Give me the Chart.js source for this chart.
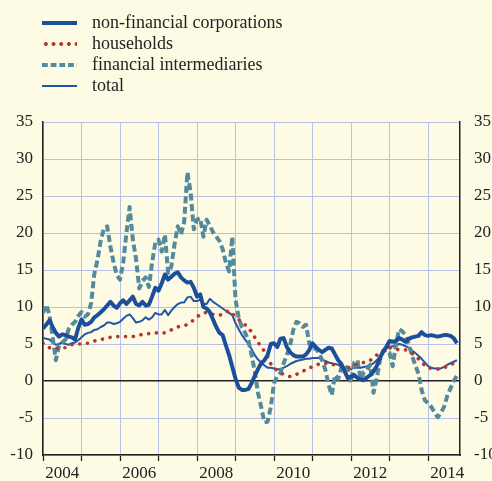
<!DOCTYPE html>
<html>
<head>
<meta charset="utf-8">
<script src="https://cdn.jsdelivr.net/npm/chart.js@4"></script>
<style>
html,body{
margin:0;
padding:0;
background:#FEFBE5;
}
#wrap{
position:relative;
width:492px;
height:481px;
}
#legend{
position:absolute;
left:42px;
top:12px;
font-family:"Liberation Serif","Times New Roman",serif;
font-size:18px;
color:#222;
}
.item{
height:21px;
display:flex;
align-items:center;
}
.sample{
width:35px;
height:4px;
margin-right:15px;
}
</style>
</head>
<body>

<div id="wrap">
<canvas id="chart" width="492" height="481"></canvas>
<div id="legend"></div>
</div>

<script>

// Data (monthly, Jan 2004 - Oct 2014, % y/y)

const startYear = 2004;

const yearLabels = ["2004","2006","2008","2010","2012","2014"];

const nonFinancial = [
7.1,7.6,8.2,7.3,6.5,6.0,6.3,6.2,6.0,5.9,5.6,7.2,
8.3,7.6,7.7,8.0,8.6,8.9,9.3,9.7,10.2,10.7,10.2,9.9,
10.5,10.9,10.4,10.9,11.4,10.4,10.2,10.7,10.2,10.3,11.4,12.6,
12.2,13.2,14.4,13.7,14.1,14.5,14.7,14.0,13.6,13.3,13.4,12.6,
11.4,11.7,10.0,9.8,9.3,8.3,7.3,6.5,6.2,4.8,3.5,1.9,
0.3,-0.9,-1.2,-1.2,-1.1,-0.3,0.7,1.6,2.4,2.8,3.5,5.0,
5.1,4.6,5.7,5.8,4.6,3.9,3.5,3.3,3.3,3.3,3.6,4.2,
5.1,4.6,4.2,3.9,4.2,4.5,4.4,3.6,2.8,2.3,1.3,0.4,
0.6,0.8,0.4,0.2,0.1,0.5,0.8,1.3,2.0,3.1,4.0,4.6,
5.4,5.3,5.4,5.8,5.6,5.3,5.7,5.9,6.0,6.1,6.6,6.2,
6.1,6.2,6.1,6.0,6.1,6.2,6.2,6.1,5.8,5.1
];

const households = [
5.1,4.8,4.5,4.4,4.4,4.5,4.5,4.5,4.7,4.9,4.9,5.0,
5.0,5.1,5.1,5.3,5.4,5.5,5.6,5.7,5.8,5.9,5.9,6.0,
6.0,6.0,6.0,6.0,6.0,6.1,6.2,6.3,6.4,6.4,6.5,6.5,
6.5,6.5,6.5,6.7,6.9,7.1,7.3,7.4,7.5,7.6,7.9,8.3,
8.7,8.9,9.1,9.3,9.2,9.0,8.9,8.9,9.0,9.3,9.5,9.1,
8.7,8.3,8.0,7.6,7.2,6.6,5.9,5.2,4.7,4.0,3.3,2.3,
1.8,1.4,1.1,0.9,0.7,0.6,0.7,0.9,1.1,1.3,1.6,1.8,
1.9,2.1,2.3,2.4,2.4,2.3,2.2,2.2,2.1,2.0,1.9,1.8,
1.9,2.1,2.3,2.4,2.5,2.6,2.8,3.1,3.5,3.8,4.1,4.4,
4.5,4.4,4.3,4.2,4.2,4.2,4.0,3.7,3.4,3.0,2.6,2.1,
1.8,1.7,1.6,1.6,1.7,1.8,2.0,2.2,2.4,2.5
];

const financial = [
9.2,10.3,9.0,6.0,2.8,4.8,5.2,5.6,7.0,7.6,8.0,8.8,
9.3,8.7,9.0,10.5,14.5,16.4,19.0,20.6,20.9,18.2,16.0,14.3,
13.7,16.0,20.0,23.5,19.1,16.5,12.5,13.5,14.0,12.7,16.0,18.7,
19.1,17.5,19.8,14.6,15.5,18.5,20.9,19.8,21.5,28.2,25.5,20.5,
21.8,22.0,19.5,21.8,21.0,20.1,19.5,18.9,17.8,16.0,14.8,19.5,
11.0,8.5,7.2,6.5,5.5,3.5,1.3,-1.6,-3.5,-5.6,-5.5,-3.5,
-0.3,0.7,1.1,2.4,3.5,4.8,6.9,8.0,7.8,7.3,7.6,5.0,
4.3,4.4,3.8,2.8,1.5,-0.5,-1.9,0.8,0.3,1.8,2.2,1.5,
-0.2,2.5,2.8,0.2,1.2,1.5,2.2,-1.6,0.3,2.8,4.0,4.2,
3.8,2.0,5.0,7.0,6.7,6.2,5.0,3.4,2.2,1.0,-1.2,-2.6,
-3.0,-3.5,-4.2,-4.9,-4.3,-3.5,-2.0,-1.0,0.0,0.7
];

const total = [
5.8,5.7,5.6,5.2,4.9,5.0,5.2,5.0,4.9,5.1,5.2,5.5,
5.9,6.3,6.5,6.6,6.9,7.0,7.3,7.5,7.9,7.9,7.7,7.8,
8.0,8.4,8.8,9.0,8.5,7.9,8.0,8.2,8.6,8.3,8.6,9.2,
9.0,9.0,9.6,8.9,9.5,10.0,10.4,10.6,10.6,11.3,11.4,10.8,
10.8,11.0,10.4,10.4,11.1,10.7,10.4,10.1,9.8,9.5,9.2,8.9,
7.8,7.0,6.2,5.6,5.0,4.3,3.5,2.9,2.5,2.1,1.8,1.8,
1.7,1.6,1.6,1.8,2.0,2.3,2.5,2.7,2.8,2.9,3.0,3.0,
3.1,3.1,3.1,2.9,2.7,2.5,2.4,2.3,2.2,2.0,1.7,1.5,
1.6,1.8,1.8,1.8,1.9,2.0,2.2,2.4,2.8,3.3,3.8,4.4,
4.6,4.7,4.8,5.0,4.9,4.7,4.5,4.1,3.8,3.4,3.0,2.5,
2.0,1.8,1.7,1.7,1.7,1.9,2.2,2.4,2.6,2.8
];

// Helpers

function toPoints(values){
return values.map(function(v,i){
return {x:startYear + i/12, y:v};
});
}

const serif = "'Liberation Serif','Times New Roman',serif";
const gridColor = "#B8C0E8";
const axisColor = "#222";
const xMax = 2014.83;

// Chart

const chart = new Chart(
document.getElementById("chart"),
{
type:"line",
data:{
datasets:[
{
label:"non-financial corporations",
data:toPoints(nonFinancial),
borderColor:"#1B4F9C",
borderWidth:4,
legendStyle:"solid4"
},
{
label:"households",
data:toPoints(households),
borderColor:"#B5372C",
borderWidth:3.6,
borderDash:[0.1,7.7],
borderCapStyle:"round",
legendStyle:"dots"
},
{
label:"financial intermediaries",
data:toPoints(financial),
borderColor:"#538A9D",
borderWidth:4,
borderDash:[7,3.5],
legendStyle:"dash"
},
{
label:"total",
data:toPoints(total),
borderColor:"#2157A8",
borderWidth:2,
legendStyle:"solid2"
}
]
},
options:{
responsive:false,
animation:false,
layout:{padding:{top:122,left:0,right:0,bottom:0}},
elements:{
point:{radius:0},
line:{tension:0,borderJoinStyle:"round"}
},
plugins:{
legend:{display:false},
tooltip:{enabled:false}
},
scales:{
x:{
type:"linear",
position:"bottom",
weight:0,
min:startYear,
max:xMax,
afterBuildTicks:function(axis){
let t=[];
for(let y=2004;y<=2014;y++){ t.push({value:y}); }
axis.ticks=t;
},
ticks:{display:false},
grid:{
color:gridColor,
lineWidth:1,
drawTicks:true,
tickLength:6,
tickColor:axisColor,
tickWidth:1.3
},
border:{display:true,color:axisColor,width:1.5},
afterFit:function(axis){ axis.height=8; }
},
x2:{
type:"linear",
position:"bottom",
weight:1,
min:startYear,
max:xMax,
afterBuildTicks:function(axis){
axis.ticks=yearLabels.map(function(l){
return {value:Number(l)+0.5};
});
},
ticks:{
autoSkip:false,
maxRotation:0,
padding:0,
color:axisColor,
font:{family:serif,size:17},
callback:function(v){ return String(Math.floor(v)); }
},
grid:{display:false,drawTicks:false},
border:{display:false},
afterFit:function(axis){ axis.height=18; }
},
y:{
position:"left",
min:-10,
max:35,
ticks:{
stepSize:5,
padding:10,
color:axisColor,
font:{family:serif,size:17}
},
grid:{
drawTicks:false,
color:function(c){ return c.tick.value===0 ? axisColor : gridColor; },
lineWidth:function(c){ return c.tick.value===0 ? 1.5 : 1; }
},
border:{display:true,color:axisColor,width:1.5},
afterFit:function(axis){ axis.width=43; }
},
y2:{
position:"right",
min:-10,
max:35,
ticks:{
stepSize:5,
padding:14,
color:axisColor,
font:{family:serif,size:17}
},
grid:{display:false,drawTicks:false},
border:{display:true,color:axisColor,width:1.5},
afterFit:function(axis){ axis.width=32; }
}
}
}
}
);

// Legend

const legend = document.getElementById("legend");

chart.data.datasets.forEach(function(ds){

let item = document.createElement("div");
item.className = "item";

let s = document.createElement("div");
s.className = "sample";
let c = ds.borderColor;

if(ds.legendStyle==="solid4"){
s.style.background = c;
}
else if(ds.legendStyle==="solid2"){
s.style.height = "2px";
s.style.marginTop = "1px";
s.style.background = c;
}
else if(ds.legendStyle==="dots"){
s.style.background =
"radial-gradient(circle at center," + c + " 1.7px, transparent 2.2px) 0 0/7.7px 4px repeat-x";
}
else{
s.style.background =
"linear-gradient(to right," + c + " 6px, transparent 6px) 0 0/8.7px 4px repeat-x";
}

let txt = document.createElement("span");
txt.textContent = ds.label;

item.appendChild(s);
item.appendChild(txt);
legend.appendChild(item);

});

</script>
</body>
</html>
